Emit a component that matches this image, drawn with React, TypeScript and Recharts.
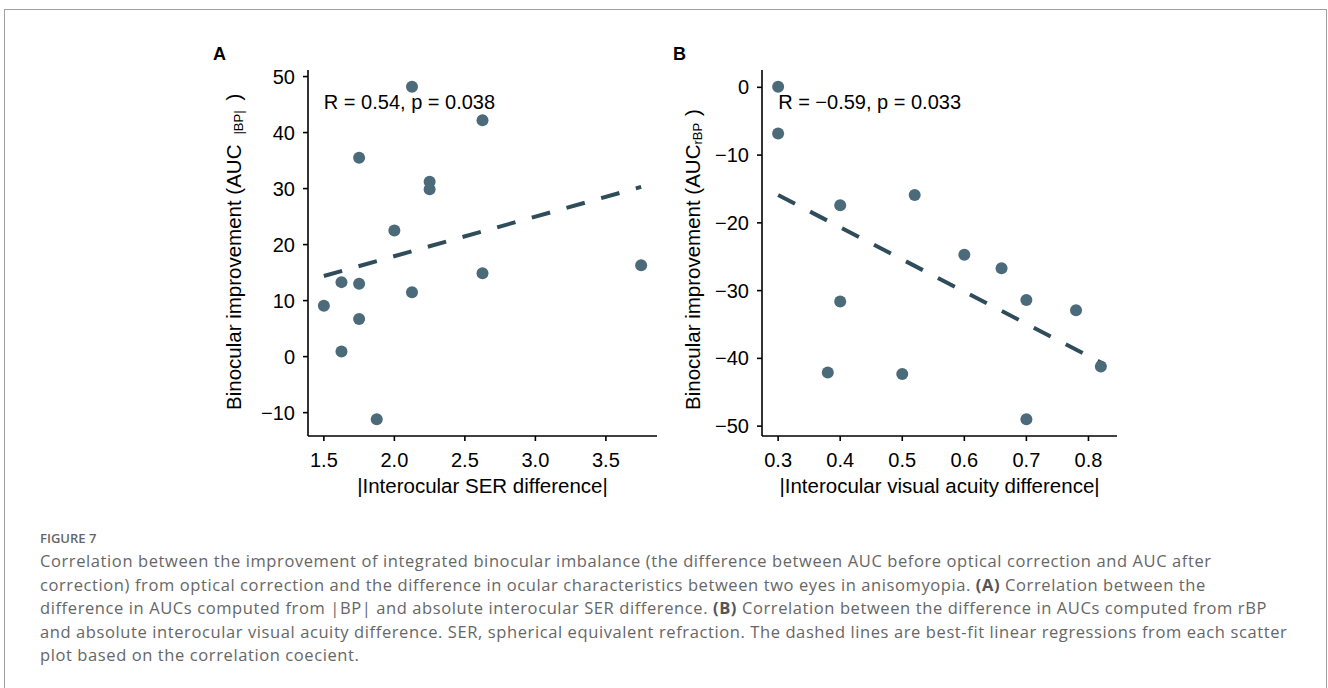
import { ScatterChart, Scatter, XAxis, YAxis, ReferenceLine, ReferenceDot } from 'recharts';

// panel A: |interocular SER difference| vs AUC |BP| improvement
const serDiff = [1.5, 1.625, 1.625, 1.75, 1.75, 1.75, 1.875, 2.0, 2.125, 2.125, 2.25, 2.25, 2.625, 2.625, 3.75];
const aucBP = [9.1, 0.9, 13.3, 35.5, 13.0, 6.7, -11.2, 22.5, 48.2, 11.5, 31.2, 29.9, 42.2, 14.9, 16.3];
const fitAX = [1.5, 3.75];
const fitAY = [14.4, 30.3];
const ticksAX = [1.5, 2.0, 2.5, 3.0, 3.5];
const ticksAY = [-10, 0, 10, 20, 30, 40, 50];

// panel B: |interocular visual acuity difference| vs AUC rBP improvement
const vaDiff = [0.3, 0.3, 0.38, 0.4, 0.4, 0.5, 0.52, 0.6, 0.66, 0.7, 0.7, 0.78, 0.82];
const aucRBP = [0.1, -6.8, -42.1, -17.4, -31.6, -42.3, -15.9, -24.7, -26.7, -31.4, -49.0, -32.9, -41.2];
const fitBX = [0.3, 0.82];
const fitBY = [-15.9, -40.6];
const ticksBX = [0.3, 0.4, 0.5, 0.6, 0.7, 0.8];
const ticksBY = [-50, -40, -30, -20, -10, 0];

const captionLines = [
  'Correlation between the improvement of integrated binocular imbalance (the difference between AUC before optical correction and AUC after',
  'correction) from optical correction and the difference in ocular characteristics between two eyes in anisomyopia. [(A)] Correlation between the',
  'difference in AUCs computed from |BP| and absolute interocular SER difference. [(B)] Correlation between the difference in AUCs computed from rBP',
  'and absolute interocular visual acuity difference. SER, spherical equivalent refraction. The dashed lines are best-fit linear regressions from each scatter',
  'plot based on the correlation coecient.',
];

const FONT = "'Liberation Sans', Arial, sans-serif";
const POINT = '#4b6a7a';
const LINE = '#2f4c5a';

// ggplot-like 5% expansion
const expand = (v: number[]): [number, number] => {
  const lo = Math.min(...v);
  const hi = Math.max(...v);
  const pad = (hi - lo) * 0.05;
  return [lo - pad, hi + pad];
};

const minus = (v: number) => (v < 0 ? '\u2212' + Math.abs(v) : String(v));

const Dot = (props: any) => <circle cx={props.cx} cy={props.cy} r={6} fill={POINT} />;

type PanelProps = {
  xs: number[];
  ys: number[];
  fitX: number[];
  fitY: number[];
  xTicks: number[];
  yTicks: number[];
  xTitle: string;
  yMain: string;
  ySub: string;
  subGap: number;
  closeGap: number;
  titleOffset: number;
  note: string;
  marginLeft: number;
};

const Panel = (p: PanelProps) => {
  const data = p.xs.map((x, i) => ({ x, y: p.ys[i] }));
  const xDom = expand(p.xs);
  const yDom = expand(p.ys);
  const tickStyle = { fill: '#000', fontSize: 20, fontFamily: FONT };
  const axisStroke = { stroke: '#000', strokeWidth: 1.6 };
  return (
    <ScatterChart width={470} height={470} margin={{ top: 30, right: 13, bottom: 14, left: p.marginLeft }}>
      <XAxis
        type="number"
        dataKey="x"
        domain={xDom}
        ticks={p.xTicks}
        allowDataOverflow
        height={60}
        tick={tickStyle}
        tickSize={5}
        tickMargin={12}
        axisLine={axisStroke}
        tickLine={axisStroke}
        tickFormatter={(v: number) => v.toFixed(1)}
        label={{
          content: ({ viewBox }: any) => (
            <text
              x={viewBox.x + viewBox.width / 2}
              y={viewBox.y + 57}
              textAnchor="middle"
              fontSize={20.5}
              fontFamily={FONT}
              fill="#000"
            >
              {p.xTitle}
            </text>
          ),
        }}
      />
      <YAxis
        type="number"
        dataKey="y"
        domain={yDom}
        ticks={p.yTicks}
        allowDataOverflow
        width={60}
        tick={tickStyle}
        tickSize={5}
        tickMargin={8}
        axisLine={axisStroke}
        tickLine={axisStroke}
        tickFormatter={minus}
        label={{
          content: ({ viewBox }: any) => {
            const x = viewBox.x + viewBox.width - p.titleOffset;
            const y = viewBox.y + viewBox.height - 26;
            return (
              <text
                x={x}
                y={y}
                transform={`rotate(-90 ${x} ${y})`}
                textAnchor="start"
                fontSize={20.5}
                fontFamily={FONT}
                fill="#000"
              >
                <tspan>{p.yMain}</tspan>
                <tspan fontSize={13} dx={p.subGap} dy={2}>{p.ySub}</tspan>
                <tspan dx={p.closeGap} dy={-2}>{')'}</tspan>
              </text>
            );
          },
        }}
      />
      <ReferenceLine
        segment={[
          { x: p.fitX[0], y: p.fitY[0] },
          { x: p.fitX[1], y: p.fitY[1] },
        ]}
        stroke={LINE}
        strokeWidth={4}
        strokeDasharray="19 17"
      />
      <Scatter data={data} shape={Dot} isAnimationActive={false} />
      <ReferenceDot
        x={Math.min(...p.xs)}
        y={Math.max(...p.ys)}
        r={0}
        fill="none"
        stroke="none"
        label={{
          content: ({ viewBox }: any) => (
            <text x={viewBox.x} y={viewBox.y + 22} fontSize={20} fontFamily={FONT} fill="#000">
              {p.note}
            </text>
          ),
        }}
      />
    </ScatterChart>
  );
};

const CaptionLine = ({ text }: { text: string }) => {
  const m = text.match(/^(.*)\[(.*)\](.*)$/);
  if (!m) return <div>{text}</div>;
  return (
    <div>
      {m[1]}
      <b style={{ fontWeight: 700, color: '#555' }}>{m[2]}</b>
      {m[3]}
    </div>
  );
};

export default function App() {
  return (
    <div style={{ position: 'absolute', left: 0, top: 0, width: 1328, height: 688, background: '#fff', overflow: 'hidden' }}>
      <div
        style={{
          position: 'absolute',
          left: 4,
          top: 9,
          width: 1321,
          height: 720,
          borderLeft: '1px solid #a0a0a0',
          borderTop: '1px solid #a0a0a0',
          borderRight: '1px solid #a0a0a0',
        }}
      />
      <div style={{ position: 'absolute', left: 200, top: 40 }}>
        <Panel
          xs={serDiff}
          ys={aucBP}
          fitX={fitAX}
          fitY={fitAY}
          xTicks={ticksAX}
          yTicks={ticksAY}
          xTitle="|Interocular SER difference|"
          yMain="Binocular improvement (AUC"
          ySub="|BP|"
          subGap={10}
          closeGap={10}
          titleOffset={67}
          note="R = 0.54, p = 0.038"
          marginLeft={48}
        />
      </div>
      <div style={{ position: 'absolute', left: 660, top: 40 }}>
        <Panel
          xs={vaDiff}
          ys={aucRBP}
          fitX={fitBX}
          fitY={fitBY}
          xTicks={ticksBX}
          yTicks={ticksBY}
          xTitle="|Interocular visual acuity difference|"
          yMain="Binocular improvement (AUC"
          ySub="rBP"
          subGap={0}
          closeGap={7}
          titleOffset={62}
          note={'R = \u22120.59, p = 0.033'}
          marginLeft={42}
        />
      </div>
      <div style={{ position: 'absolute', left: 213, top: 44, fontFamily: FONT, fontWeight: 700, fontSize: 18 }}>A</div>
      <div style={{ position: 'absolute', left: 673, top: 44, fontFamily: FONT, fontWeight: 700, fontSize: 18 }}>B</div>
      <div
        style={{
          position: 'absolute',
          left: 40,
          top: 527,
          fontFamily: "'Open Sans', sans-serif",
          color: '#666',
          fontSize: 16.5,
          letterSpacing: 0.6,
          lineHeight: '23.5px',
          whiteSpace: 'nowrap',
        }}
      >
        <div style={{ fontSize: 13, fontWeight: 600, color: '#666', lineHeight: '22px', letterSpacing: 0 }}>FIGURE 7</div>
        {captionLines.map((t, i) => (
          <CaptionLine key={i} text={t} />
        ))}
      </div>
    </div>
  );
}
